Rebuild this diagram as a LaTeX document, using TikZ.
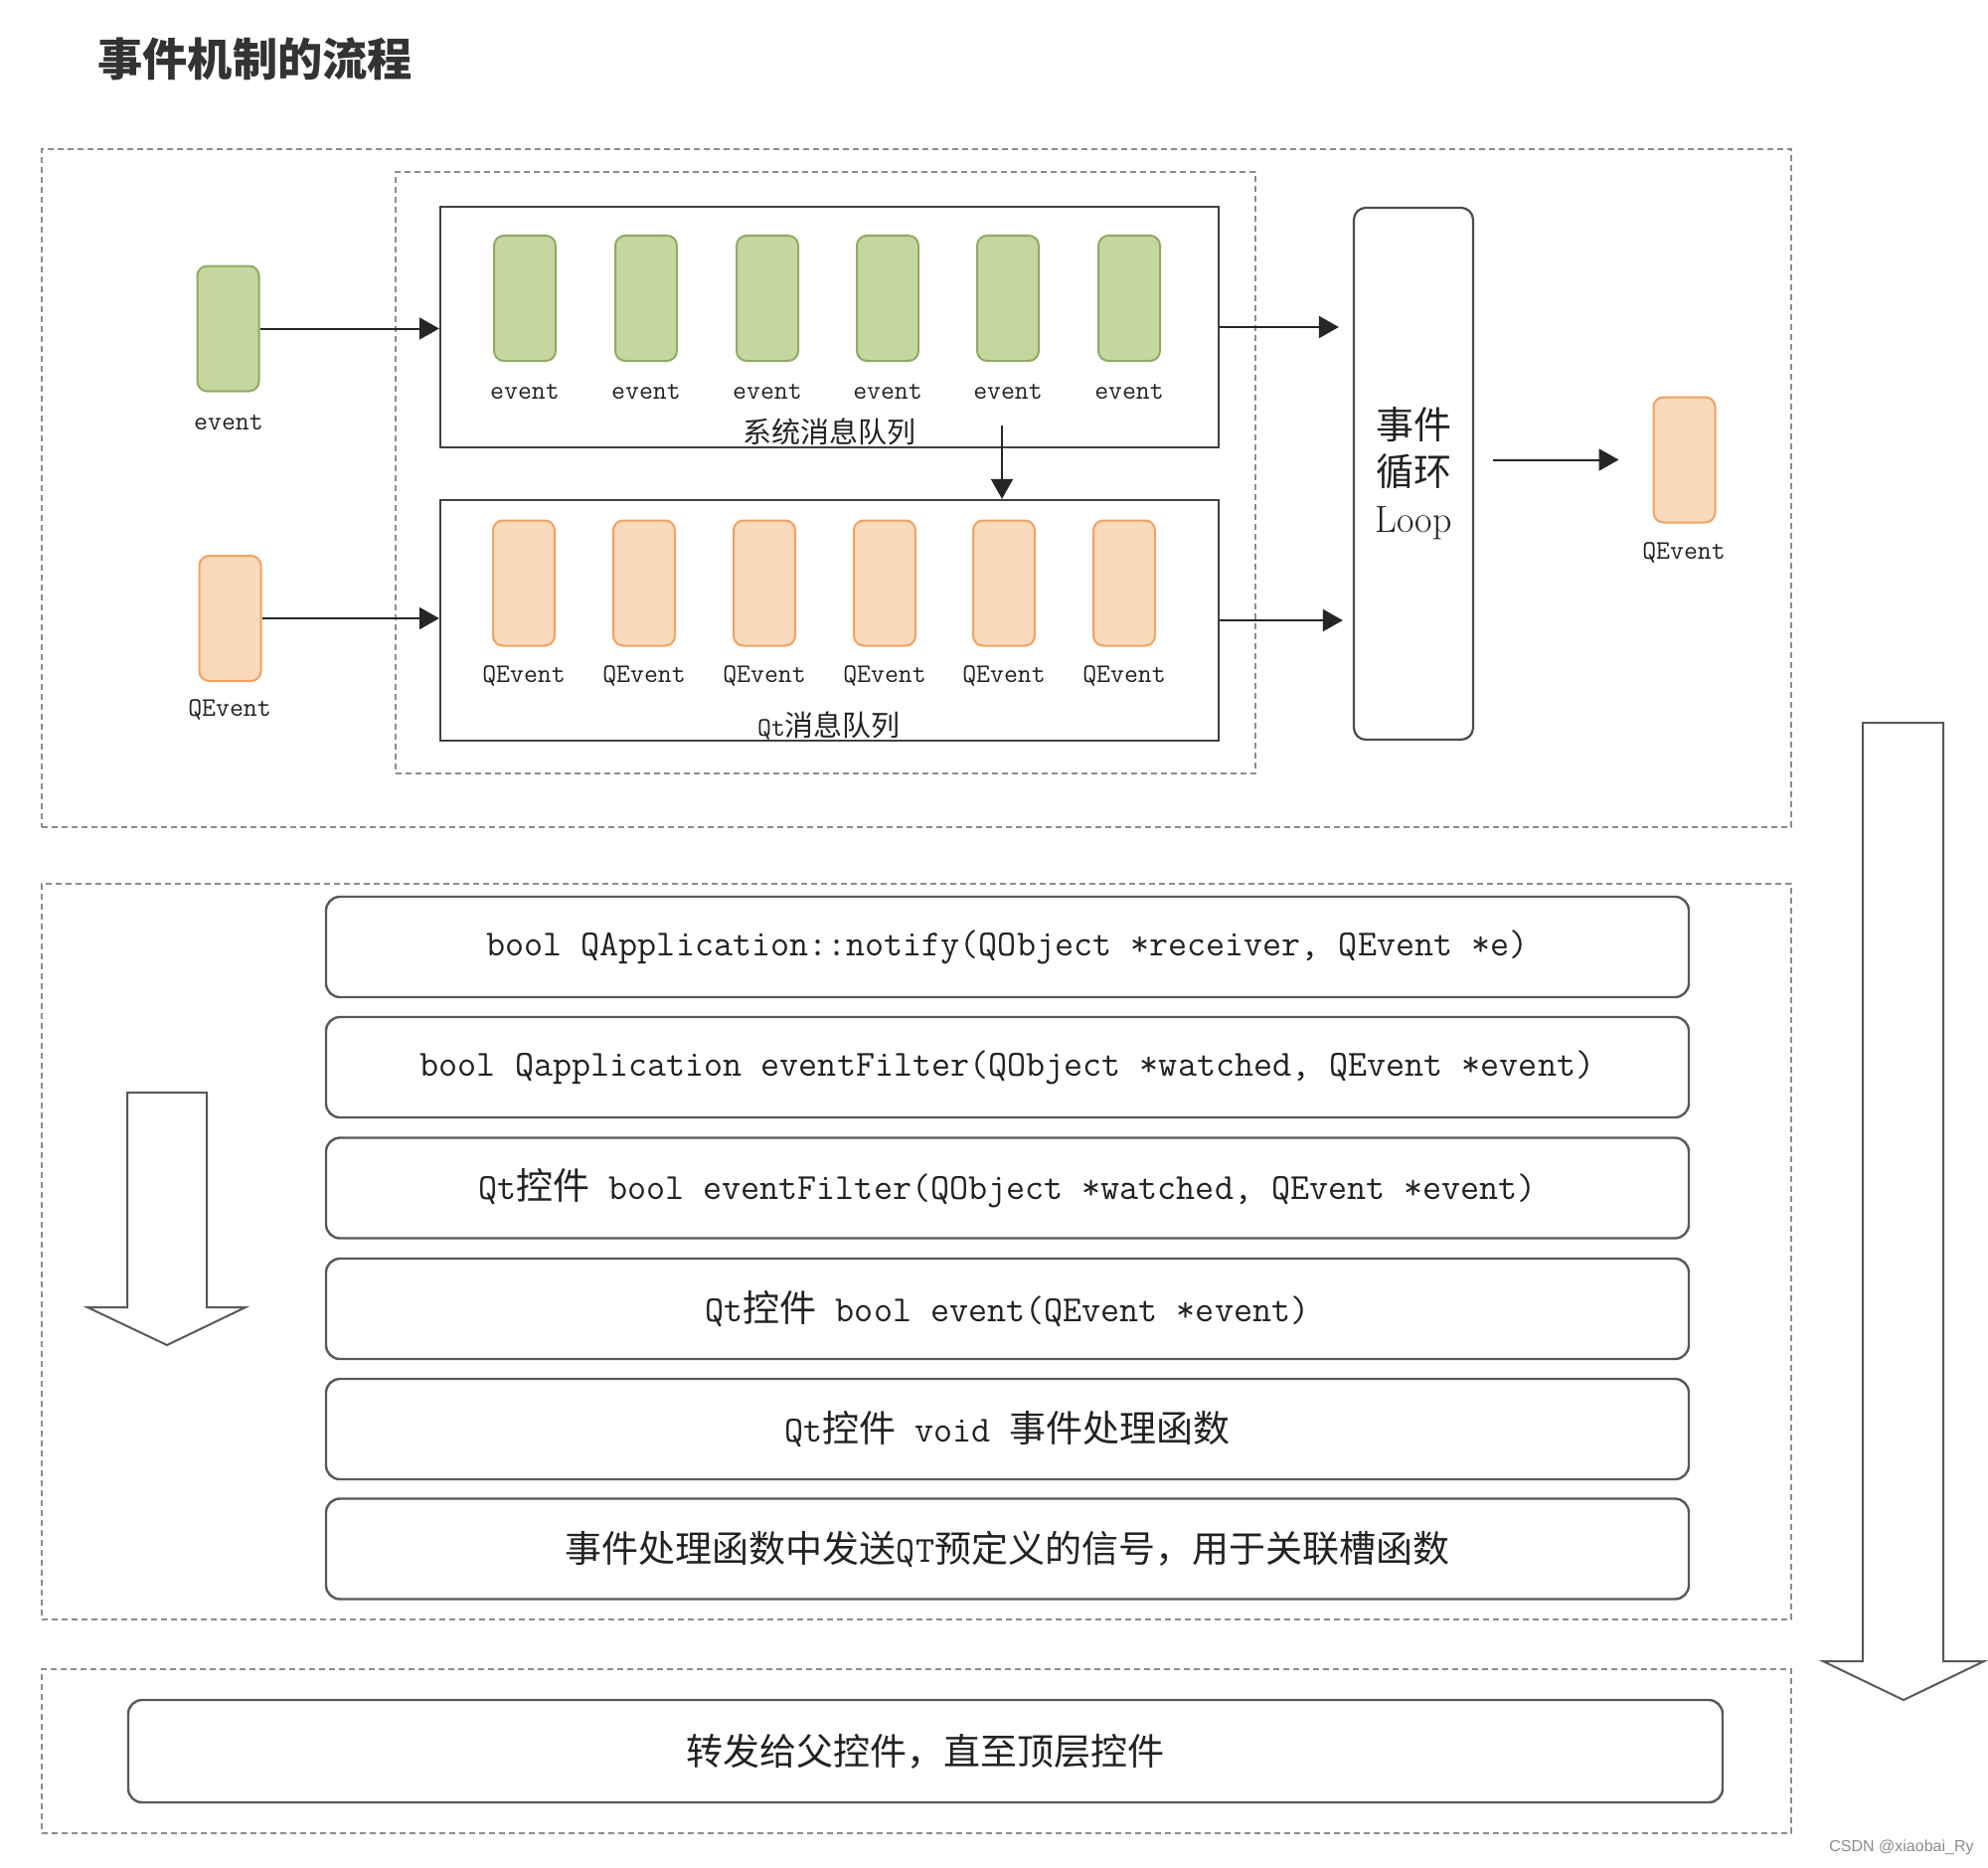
\documentclass[tikz,border=0pt]{standalone}
\usepackage{fontspec}
\newfontfamily\cjk{Noto Sans CJK SC}
\newfontfamily\wmfont{Liberation Sans}
\usetikzlibrary{arrows.meta}
\definecolor{gfill}{HTML}{C5D6A0}
\definecolor{gline}{HTML}{8FAA63}
\definecolor{ofill}{HTML}{FBD9BC}
\definecolor{oline}{HTML}{F0A262}
\definecolor{txt}{HTML}{222222}
\newcommand{\zh}[1]{{\cjk #1}}
\newcommand{\fsz}{\fontsize{18.5}{22}\selectfont\ttfamily}
\newcommand{\lsz}{\fontsize{13.5}{16}\selectfont\ttfamily}
\tikzset{
  dashbox/.style={draw=black!45, dash pattern=on 3pt off 2pt, line width=0.7pt, inner sep=0pt},
  queue/.style={draw=black!75, line width=1.1pt, inner sep=0pt, minimum width=391.5pt, minimum height=121pt},
  gev/.style={draw=gline, fill=gfill, rounded corners=5pt, line width=1pt, minimum width=31pt, minimum height=63pt, inner sep=0pt},
  oev/.style={draw=oline, fill=ofill, rounded corners=5pt, line width=1pt, minimum width=31pt, minimum height=63pt, inner sep=0pt},
  lbl/.style={font=\lsz, text=txt, inner sep=0pt},
  fnbox/.style={draw=black!65, rounded corners=7pt, line width=1.2pt, minimum width=685.5pt, minimum height=50.5pt, font=\fsz, text=txt},
  arr/.style={-{Triangle[length=10pt,width=11pt]}, line width=1pt, black!85},
  hollow/.style={draw=black!65, line width=1pt, fill=white, line join=miter}
}
\begin{document}
\begin{tikzpicture}[x=0.5pt, y=-0.5pt]
\fill[white] (0,0) rectangle (2000,1878);
\useasboundingbox (0,0) rectangle (2000,1878);

% title
\node[anchor=west, inner sep=0pt, text=black!80, font=\fontsize{22.6}{26}\selectfont] (title) at (98,59) {\cjk\bfseries 事件机制的流程};

% frames
\node[dashbox, minimum width=880pt, minimum height=341pt] (frame1) at (922,491) {};
\node[dashbox, minimum width=432.5pt, minimum height=302.5pt] (frame1in) at (830.5,475.5) {};
\node[dashbox, minimum width=880pt, minimum height=370pt] (frame2) at (922,1259) {};
\node[dashbox, minimum width=880pt, minimum height=82.5pt] (frame3) at (922,1761.5) {};

% queues
\node[queue] (sysq) at (834.5,329) {};
\node[queue] (qtq) at (834.5,624) {};

% green events in system queue
\foreach \i/\x in {1/528,2/650,3/772,4/893,5/1014,6/1136}{
  \node[gev] (g\i) at (\x,300) {};
  \node[lbl] (gl\i) at (\x,394) {event};
}
\node[lbl, font=\fontsize{14.5}{16}\selectfont\cjk] (sysqlabel) at (834,434) {系统消息队列};

% orange events in Qt queue
\foreach \i/\x in {1/527,2/648,3/769,4/890,5/1010,6/1131}{
  \node[oev] (o\i) at (\x,586.5) {};
  \node[lbl] (ol\i) at (\x,680) {QEvent};
}
\node[lbl] (qtqlabel) at (834,730) {Qt\zh{\fontsize{14.5}{16}\selectfont 消息队列}};

% left inputs
\node[gev] (gin) at (229.5,330.5) {};
\node[lbl] (ginl) at (230,425) {event};
\node[oev] (oin) at (231.5,622) {};
\node[lbl] (oinl) at (231,714) {QEvent};

% loop
\node[draw=black!70, line width=1.1pt, rounded corners=6pt, minimum width=60pt, minimum height=267.5pt, inner sep=0pt,
      align=center, text=txt, font=\fontsize{19}{23.5}\selectfont] (loop) at (1422,476.5)
      {\zh{事件}\\\zh{循环}\\\rmfamily Loop};

% output event
\node[oev] (rq) at (1694.5,462.5) {};
\node[lbl] (rql) at (1694,556) {QEvent};

% connectors
\draw[arr] (gin.east) -- (gin.east -| sysq.west);
\draw[arr] (oin.east) -- (oin.east -| qtq.west);
\draw[arr, shorten >=7pt] (sysq.east) -- (sysq.east -| loop.west);
\draw[arr, shorten >=5pt] (qtq.east) -- (qtq.east -| loop.west);
\coordinate (dstart) at (1008,428);
\draw[arr] (dstart) -- (dstart |- qtq.north);
\draw[arr, shorten <=9.5pt, shorten >=17pt] (loop.east |- rq.west) -- (rq.west);

% function chain
\node[fnbox] (f1) at (1013.5,952.5) {bool QApplication::notify(QObject *receiver, QEvent *e)};
\node[fnbox] (f2) at (1013.5,1073.5) {bool Qapplication eventFilter(QObject *watched, QEvent *event)};
\node[fnbox] (f3) at (1013.5,1195) {Qt\zh{控件} bool eventFilter(QObject *watched, QEvent *event)};
\node[fnbox] (f4) at (1013.5,1316.5) {Qt\zh{控件} bool event(QEvent *event)};
\node[fnbox] (f5) at (1013.5,1437.5) {Qt\zh{控件} void \zh{事件处理函数}};
\node[fnbox] (f6) at (1013.5,1558) {\zh{事件处理函数中发送}QT\zh{预定义的信号，用于关联槽函数}};

% bottom box
\node[fnbox, minimum width=802pt, minimum height=51.5pt] (parent) at (931,1761.5) {\zh{转发给父控件，直至顶层控件}};

% hollow arrows
\draw[hollow] (128,1099) -- (208,1099) -- (208,1315) -- (247,1315) -- (168,1353) -- (88,1315) -- (128,1315) -- cycle;
\draw[hollow] (1874,727) -- (1955,727) -- (1955,1671) -- (1996,1671) -- (1915,1710) -- (1834,1671) -- (1874,1671) -- cycle;

% watermark
\node[inner sep=0pt, text=black!45, font=\wmfont\fontsize{8}{9}\selectfont] (wm) at (1913,1858) {CSDN @xiaobai\_Ry};
\end{tikzpicture}
\end{document}
